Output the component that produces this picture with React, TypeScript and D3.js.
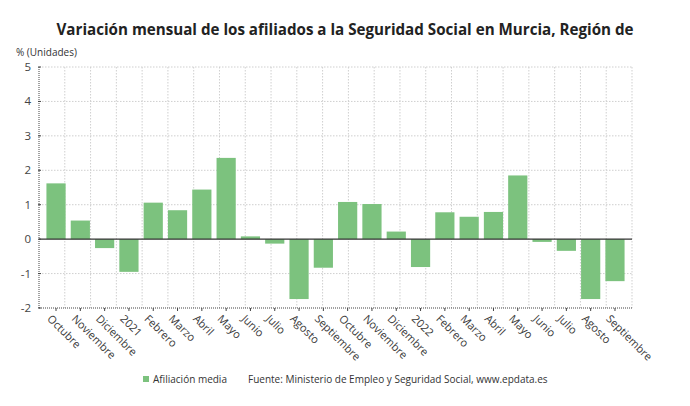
import React from "react";
import * as d3 from "d3";

// months shown on the x axis (Oct 2020 - Sep 2022)
const months = [
  "Octubre", "Noviembre", "Diciembre", "2021", "Febrero", "Marzo", "Abril", "Mayo",
  "Junio", "Julio", "Agosto", "Septiembre", "Octubre", "Noviembre", "Diciembre", "2022",
  "Febrero", "Marzo", "Abril", "Mayo", "Junio", "Julio", "Agosto", "Septiembre",
];
// variación mensual (%)
const afiliacion = [
  1.62, 0.54, -0.26, -0.95, 1.06, 0.84, 1.44, 2.36, 0.08, -0.13, -1.74, -0.83,
  1.08, 1.02, 0.22, -0.81, 0.78, 0.65, 0.79, 1.85, -0.08, -0.34, -1.74, -1.22,
];
const yTicks = [5, 4, 3, 2, 1, 0, -1, -2];

const title = "Variación mensual de los afiliados a la Seguridad Social en Murcia, Región de";
const font = "'Open Sans', sans-serif";

export default function App() {
  const W = 690, H = 406;
  const left = 39, right = 632, top = 67, bottom = 308;

  const y = d3.scaleLinear().domain([-2, 5]).range([bottom, top]);
  const x = d3.scaleBand<number>()
    .domain(d3.range(months.length))
    .range([left + 5, right - 5])
    .paddingInner(0.21)
    .paddingOuter(0.1);
  const gx = d3.scaleLinear().domain([0, 23]).range([left, right]);
  const barColor = "#7cc27e";

  return (
    <div style={{ position: "absolute", left: 0, top: 0 }}>
      <svg width={W} height={H} style={{ display: "block", background: "#fff" }} fontFamily={font}>
        <text x={345} y={35} textAnchor="middle" fontSize={16.5} fontWeight={700} fill="#222"
          textLength={577} lengthAdjust="spacingAndGlyphs">
          {title}
        </text>
        <text x={16} y={56} fontSize={10} fill="#333">% (Unidades)</text>

        {/* grid */}
        {d3.range(1, 23).map((i) => (
          <line key={"vg" + i} x1={gx(i)} x2={gx(i)} y1={top} y2={bottom}
            stroke="#cfcfcf" strokeDasharray="1.5,1.5" strokeWidth={1} />
        ))}
        <line x1={right} x2={right} y1={top} y2={bottom} stroke="#cfcfcf" strokeDasharray="1.5,1.5" />
        {yTicks.filter((t) => t !== 0 && t !== -2).map((t) => (
          <line key={"hg" + t} x1={left} x2={right} y1={y(t)} y2={y(t)}
            stroke="#cfcfcf" strokeDasharray="1.5,1.5" />
        ))}

        {/* bars */}
        {afiliacion.map((v, i) => (
          <rect key={"b" + i} x={x(i)} width={x.bandwidth()}
            y={y(Math.max(0, v))} height={Math.abs(y(v) - y(0))} fill={barColor} />
        ))}

        {/* zero line */}
        <line x1={left} x2={right} y1={y(0)} y2={y(0)} stroke="#333" strokeWidth={1.3} />

        {/* y axis */}
        <line x1={left} x2={left} y1={top} y2={bottom} stroke="#444" strokeDasharray="1,1" />
        {yTicks.map((t) => (
          <g key={"yt" + t}>
            <line x1={left - 1} x2={left + 2} y1={y(t)} y2={y(t)} stroke="#444" />
            <text x={31} y={y(t) + 4} textAnchor="end" fontSize={11.5} fill="#444">{t}</text>
          </g>
        ))}

        {/* x axis */}
        <line x1={left} x2={right} y1={bottom} y2={bottom} stroke="#444" strokeDasharray="1,1" strokeWidth={1.2} />
        {months.map((m, i) => {
          const cx = (x(i) ?? 0) + x.bandwidth() / 2;
          return (
            <g key={"xt" + i}>
              <line x1={cx} x2={cx} y1={bottom} y2={bottom + 3} stroke="#444" />
              <text transform={`translate(${cx - 4},${bottom + 6}) rotate(45)`}
                fontSize={11} fill="#3a3a3a" dy="0.7em">{m}</text>
            </g>
          );
        })}

        {/* legend */}
        <rect x={143} y={376} width={6} height={6} fill={barColor} />
        <text x={153} y={383} fontSize={10} fill="#333">Afiliación media</text>
        <text x={248} y={383} fontSize={10} fill="#333">
          Fuente: Ministerio de Empleo y Seguridad Social, www.epdata.es
        </text>
      </svg>
    </div>
  );
}
